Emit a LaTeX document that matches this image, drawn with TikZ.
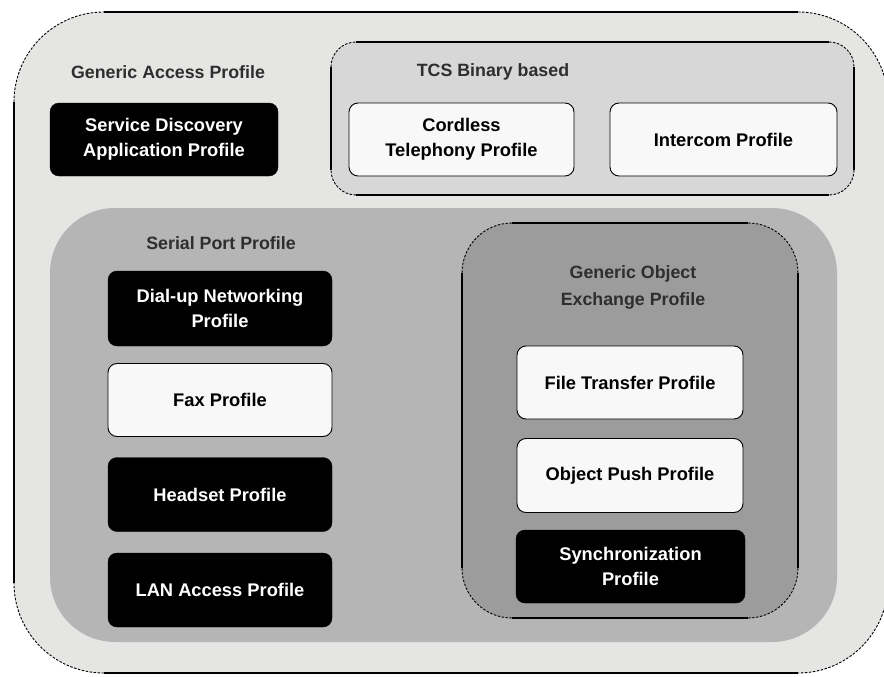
\documentclass[tikz,border=0pt]{standalone}
\usepackage{fontspec}
\setmainfont{Liberation Sans}
\definecolor{outerfill}{HTML}{E5E6E3}
\definecolor{tcsfill}{HTML}{D7D7D7}
\definecolor{serialfill}{HTML}{B5B5B5}
\definecolor{goepfill}{HTML}{9C9C9C}
\definecolor{whitebox}{HTML}{F8F8F8}
\tikzset{
  edge/.style={draw=black, line width=1.1pt},
  cornerdash/.style={dash pattern=on 2.5pt off 1.5pt, line width=0.9pt},
  profbox/.style={rectangle, rounded corners=9pt, inner sep=0pt, minimum width=226pt,
     minimum height=73pt, align=center, font=\fontsize{18.3}{25}\selectfont\bfseries},
  darkbox/.style={profbox, fill=black, draw=black, text=white},
  lightbox/.style={profbox, fill=whitebox, draw=black, line width=0.9pt, text=black},
  grouplabel/.style={align=center, font=\fontsize{17.8}{27}\selectfont\bfseries, text=black!82},
}
\newcommand\framebx[5]{%
  \draw[edge] ({#1+#5},#2) -- ({#3-#5},#2);
  \draw[edge] ({#1+#5},#4) -- ({#3-#5},#4);
  \draw[edge] (#1,{#2+#5}) -- (#1,{#4-#5});
  \draw[edge] (#3,{#2+#5}) -- (#3,{#4-#5});
  \draw[cornerdash, rounded corners=#5pt] (#1,{#2+#5}) -- (#1,#2) -- ({#1+#5},#2);
  \draw[cornerdash, rounded corners=#5pt] ({#3-#5},#2) -- (#3,#2) -- (#3,{#2+#5});
  \draw[cornerdash, rounded corners=#5pt] (#3,{#4-#5}) -- (#3,#4) -- ({#3-#5},#4);
  \draw[cornerdash, rounded corners=#5pt] ({#1+#5},#4) -- (#1,#4) -- (#1,{#4-#5});
}
\begin{document}
\begin{tikzpicture}[x=1pt, y=-1pt]
\useasboundingbox (0,0) rectangle (884,677);
\fill[white] (0,0) rectangle (884,677);
% outer Generic Access Profile
\fill[outerfill, rounded corners=90pt] (14,12) rectangle (888,673);
\framebx{14}{12}{888}{673}{90}
\node[grouplabel] (gap) at (168,72) {Generic Access Profile};
% TCS
\fill[tcsfill, rounded corners=25pt] (331,42) rectangle (854,195);
\framebx{331}{42}{854}{195}{25}
\node[grouplabel] (tcs) at (493,72) {TCS Binary based};
% Serial port
\fill[serialfill, rounded corners=65pt] (50,208) rectangle (837,642);
\node[grouplabel] (spp) at (221,243) {Serial Port Profile};
% GOEP
\fill[goepfill, rounded corners=50pt] (462,223) rectangle (798,618);
\framebx{462}{223}{798}{618}{50}
\node[grouplabel] (goep) at (633,287) {Generic Object\\Exchange Profile};
% profile boxes
\node[darkbox, minimum width=228pt] (sdap) at (164,139.5) {Service Discovery\\Application Profile};
\node[lightbox, minimum width=225pt] (ctp) at (461.5,139.5) {Cordless\\Telephony Profile};
\node[lightbox, minimum width=227pt] (icp) at (723.5,139.5) {\raisebox{-9pt}{Intercom Profile}};
\node[darkbox, minimum width=224pt, minimum height=75pt] (dun) at (220,308.5) {Dial-up Networking\\Profile};
\node[lightbox, minimum width=224pt] (fax) at (220,400) {Fax Profile};
\node[darkbox, minimum width=224pt, minimum height=74pt] (hsp) at (220,494.5) {Headset Profile};
\node[darkbox, minimum width=224pt, minimum height=74pt] (lan) at (220,590) {LAN Access Profile};
\node[lightbox] (ftp) at (630,382.5) {File Transfer Profile};
\node[lightbox, minimum height=74pt] (opp) at (630,475.5) {Object Push Profile};
\node[darkbox, minimum width=229pt] (sync) at (630.5,566.5) {Synchronization\\Profile};
\end{tikzpicture}
\end{document}
